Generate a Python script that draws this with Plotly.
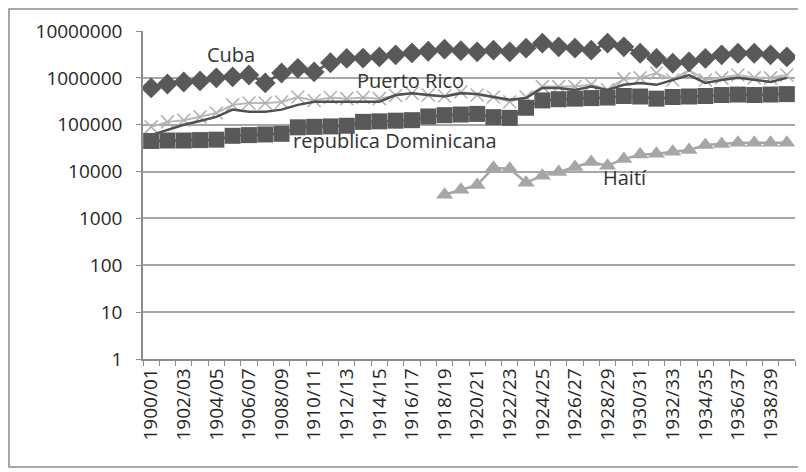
import math
import plotly.graph_objects as go

years = [f"{y}/{str(y + 1)[-2:]}" for y in range(1900, 1940)]

cuba = [610000, 740000, 815000, 860000, 1000000, 1050000, 1150000, 780000, 1270000, 1600000,
        1340000, 2100000, 2600000, 2650000, 2800000, 3100000, 3400000, 3700000, 4100000, 3800000,
        3600000, 3900000, 3600000, 4300000, 5500000, 4600000, 4300000, 3900000, 5500000, 4600000,
        3350000, 2600000, 2050000, 2200000, 2600000, 3100000, 3350000, 3350000, 3100000, 2800000]

puerto_rico = [90000, 115000, 125000, 147000, 178000, 265000, 290000, 290000, 305000, 390000,
               330000, 380000, 360000, 380000, 360000, 420000, 470000, 430000, 410000, 500000,
               430000, 390000, 310000, 390000, 650000, 650000, 650000, 720000, 560000, 950000,
               1000000, 1270000, 900000, 1470000, 900000, 1000000, 1150000, 1000000, 1000000, 1150000]

puerto_rico_linea = [60000, 78000, 100000, 120000, 147000, 210000, 190000, 190000, 210000, 265000,
                     310000, 310000, 310000, 310000, 310000, 430000, 470000, 430000, 400000, 470000,
                     450000, 390000, 340000, 370000, 610000, 610000, 550000, 650000, 550000, 710000,
                     780000, 710000, 900000, 1150000, 780000, 900000, 1000000, 900000, 820000, 1000000]

rep_dominicana = [45000, 46000, 46000, 47000, 48000, 58000, 60000, 62000, 64000, 88000,
                  90000, 92000, 95000, 115000, 118000, 122000, 125000, 150000, 160000, 165000,
                  170000, 145000, 140000, 230000, 330000, 350000, 360000, 370000, 380000, 410000,
                  400000, 360000, 390000, 400000, 410000, 430000, 440000, 430000, 440000, 450000]

haiti = [None] * 18 + [3200, 4100, 5200, 12000, 11500, 5800, 8100, 9800, 12500, 16000,
                       13300, 18600, 23000, 24000, 26500, 29000, 37000, 39000, 41000, 41000, 41000, 41000]

y_ticks = [1, 10, 100, 1000, 10000, 100000, 1000000, 10000000]
y_labels = [str(v) for v in y_ticks]
x_labels = [y if i % 2 == 0 else "" for i, y in enumerate(years)]

DARK = "#595959"
LIGHT = "#a6a6a6"
FONT = "Open Sans"

fig = go.Figure()
fig.add_trace(go.Scatter(x=years, y=puerto_rico, name="Puerto Rico", mode="lines+markers",
                         line=dict(color="#b8b8b8", width=2),
                         marker=dict(symbol="x-thin", size=13, line=dict(color="#b0b0b0", width=1.5))))
fig.add_trace(go.Scatter(x=years, y=puerto_rico_linea, name="Puerto Rico (2)", mode="lines",
                         line=dict(color="#505050", width=2.5)))
fig.add_trace(go.Scatter(x=years, y=rep_dominicana, name="republica Dominicana", mode="lines+markers",
                         line=dict(color=DARK, width=2.5),
                         marker=dict(symbol="square", size=16, color=DARK)))
fig.add_trace(go.Scatter(x=years, y=cuba, name="Cuba", mode="lines+markers",
                         line=dict(color=DARK, width=2.5),
                         marker=dict(symbol="diamond", size=16, color=DARK)))
fig.add_trace(go.Scatter(x=years, y=haiti, name="Haití", mode="lines+markers",
                         line=dict(color=LIGHT, width=2.5),
                         marker=dict(symbol="triangle-up", size=15, color=LIGHT)))

labels = [("Cuba", 4.9, 3100000), ("Puerto Rico", 15.9, 900000),
          ("republica Dominicana", 14.95, 45000), ("Haití", 29.1, 7400)]
for text, xv, yv in labels:
    fig.add_annotation(x=xv, y=math.log10(yv), text=text, showarrow=False, xanchor="center",
                       font=dict(family=FONT, size=20, color="#333333"))

fig.update_xaxes(type="category", range=[-0.5, 39.5], tickmode="array", tickvals=years,
                 ticktext=x_labels, tickson="boundaries", ticks="outside", ticklen=5,
                 tickcolor="#8c8c8c", tickangle=-90, showgrid=False, showline=True,
                 linecolor="#8c8c8c", linewidth=1.5, automargin=False,
                 tickfont=dict(family=FONT, size=19, color="#262626"))
fig.update_yaxes(type="log", range=[0, 7], tickmode="array", tickvals=y_ticks, ticktext=y_labels,
                 ticks="outside", ticklen=5, tickcolor="#8c8c8c", showgrid=True,
                 gridcolor="#a6a6a6", gridwidth=1.5, showline=True, linecolor="#8c8c8c",
                 linewidth=1.5, zeroline=False, automargin=False, ticklabelstandoff=10,
                 tickfont=dict(family=FONT, size=19, color="#262626"))

fig.add_shape(type="rect", xref="paper", yref="paper", x0=-0.2055, x1=1.009, y0=-0.329, y1=1.067,
              line=dict(color="#8c8c8c", width=1.5), fillcolor="rgba(0,0,0,0)")

fig.update_layout(width=798, height=464, showlegend=False,
                  margin=dict(l=135, r=11, t=23, b=113),
                  plot_bgcolor="white", paper_bgcolor="white")

fig.write_html("out.html")
